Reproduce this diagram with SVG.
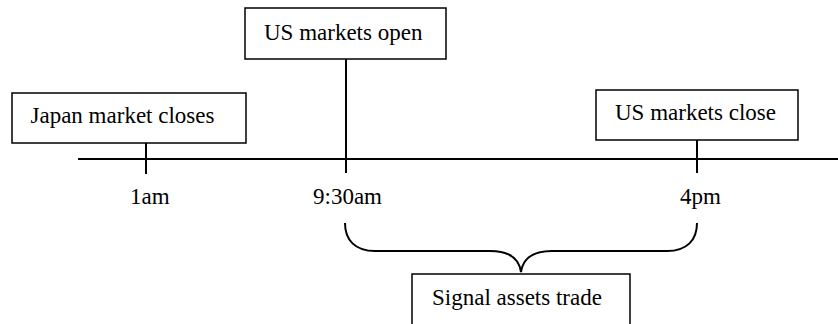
<svg xmlns="http://www.w3.org/2000/svg" width="838" height="324" viewBox="0 0 838 324">
<style>
.box{fill:#fff;stroke:#000;stroke-width:1.5}
.ln{fill:none;stroke:#000;stroke-width:2}
</style>
<rect width="838" height="324" fill="#fff"/>
<g id="connectors">
<line class="ln" x1="78" y1="159" x2="838" y2="159"/>
<line class="ln" x1="146" y1="143" x2="146" y2="174"/>
<line class="ln" x1="346" y1="59" x2="346" y2="173"/>
<line class="ln" x1="697" y1="140" x2="697" y2="173"/>
<path class="ln" d="M345,223 C345,240 355,251 375,251 L490,251 C508,251 519,258 521,272 C523,258 534,251 552,251 L667,251 C687,251 697,240 697,223"/>
</g>
<g id="japan"><rect class="box" x="12" y="93" width="234" height="50"/><text x="30.5" y="123" font-family="Liberation Serif" font-size="23">Japan market closes</text></g>
<g id="usopen"><rect class="box" x="245" y="8" width="201" height="51"/><text x="264" y="40" font-family="Liberation Serif" font-size="23">US markets open</text></g>
<g id="usclose"><rect class="box" x="596" y="90" width="202" height="50"/><text x="615" y="120" font-family="Liberation Serif" font-size="23">US markets close</text></g>
<g id="t1am"><text x="130" y="204" font-family="Liberation Serif" font-size="23">1am</text></g>
<g id="t930"><text x="313" y="204" font-family="Liberation Serif" font-size="23">9:30am</text></g>
<g id="t4pm"><text x="680" y="204" font-family="Liberation Serif" font-size="23">4pm</text></g>
<g id="signal"><rect class="box" x="412" y="274" width="218" height="60"/><text x="432" y="305" font-family="Liberation Serif" font-size="23">Signal assets trade</text></g>
</svg>
